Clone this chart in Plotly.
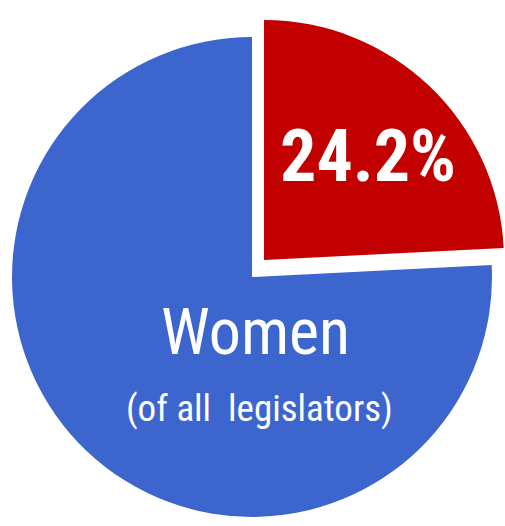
import plotly.graph_objects as go

# Share of legislators who are women (percent)
categories = ["Women", "Men"]
shares = [24.2, 75.8]
colors = ["#C20000", "#3C66CD"]

W, H = 505, 526
R = 240                      # pie radius in px
CENTER = (252, 277)          # pie centre in px (from top-left)
PULL = (12, -17)             # offset of the highlighted slice in px

def dom(cx, cy, r):
    return dict(x=[max(0, (cx - r) / W), min(1, (cx + r) / W)],
                y=[max(0, 1 - (cy + r) / H), min(1, 1 - (cy - r) / H)])

clear = "rgba(0,0,0,0)"

fig = go.Figure()
# the remaining share, drawn at the pie centre
fig.add_trace(go.Pie(
    labels=categories, values=shares, sort=False, direction="clockwise",
    rotation=0, marker=dict(colors=[clear, colors[1]], line=dict(width=0)),
    textinfo="none", hoverinfo="skip", showlegend=False,
    domain=dom(CENTER[0], CENTER[1], R),
))
# the highlighted share, pulled out toward the upper right
fig.add_trace(go.Pie(
    labels=categories, values=shares, sort=False, direction="clockwise",
    rotation=0, marker=dict(colors=[colors[0], clear], line=dict(width=0)),
    textinfo="none", hoverinfo="label+value", showlegend=False,
    domain=dom(CENTER[0] + PULL[0], CENTER[1] + PULL[1], R),
))

FONT = "Liberation Sans Narrow, Roboto Condensed, DejaVu Sans Condensed, sans-serif"

def px(x, y):
    return dict(x=x / W, y=1 - y / H, xref="paper", yref="paper")

fig.add_annotation(text=f"<b>{shares[0]}%</b>", showarrow=False,
                   font=dict(family=FONT, size=72, color="white"),
                   xanchor="center", yanchor="middle", **px(368, 156))
fig.add_annotation(text=categories[0], showarrow=False,
                   font=dict(family=FONT, size=64, color="white"),
                   xanchor="center", yanchor="middle", **px(255, 332))
fig.add_annotation(text="(of all\u00a0 legislators)", showarrow=False,
                   font=dict(family=FONT, size=37, color="white"),
                   xanchor="center", yanchor="middle", **px(259, 408))

fig.update_layout(width=W, height=H, margin=dict(l=0, r=0, t=0, b=0),
                  paper_bgcolor="white", plot_bgcolor="white")

fig.write_html("out.html")
